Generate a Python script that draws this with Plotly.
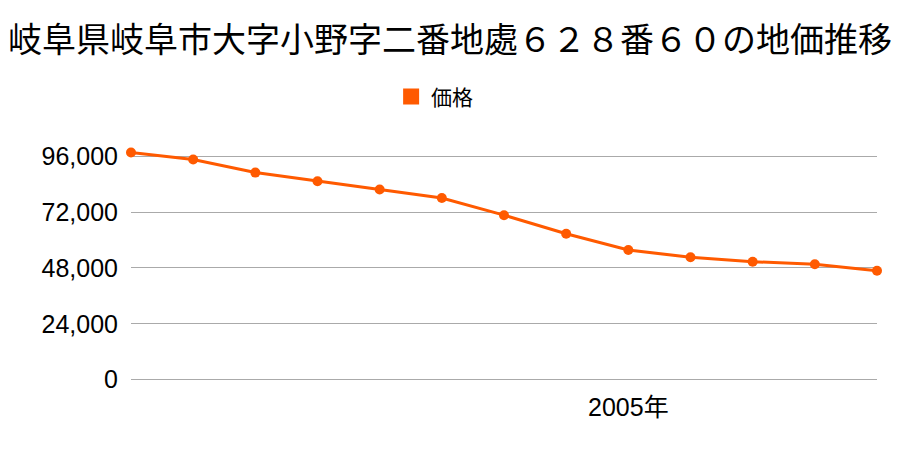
import plotly.graph_objects as go

years = list(range(1997, 2010))
prices = [97600, 94600, 89000, 85300, 81700, 78100, 70700, 62700, 55700, 52600, 50700, 49600, 46800]
y_ticks = [0, 24000, 48000, 72000, 96000]
x_tickvals = [2005]
x_ticktext = ["2005年"]
title = "岐阜県岐阜市大字小野字二番地處６２８番６０の地価推移"
series_name = "価格"
color = "#FF5A00"

fig = go.Figure()
fig.add_trace(go.Scatter(
    x=years, y=prices, mode="lines+markers",
    line=dict(color=color, width=3),
    marker=dict(color=color, size=10),
    showlegend=False, cliponaxis=False,
))
fig.add_trace(go.Scatter(
    x=[None], y=[None], mode="markers", name=series_name,
    marker=dict(color=color, size=21, symbol="square"),
))

fig.update_layout(
    width=900, height=450,
    paper_bgcolor="white", plot_bgcolor="white",
    font=dict(family="Liberation Sans, Noto Sans CJK JP", color="black", size=25),
    title=dict(text=title, x=0.5, xanchor="center", xref="container", y=0.91, yanchor="middle",
               font=dict(family="Noto Sans CJK JP", size=34, color="black")),
    margin=dict(l=131, r=23, t=147, b=68),
    legend=dict(orientation="h", x=0.407, xanchor="center", y=1.213, yanchor="middle",
                font=dict(family="Noto Sans CJK JP", size=21), itemwidth=30),
    xaxis=dict(range=[1997, 2009], tickvals=x_tickvals, ticktext=x_ticktext,
               showgrid=False, zeroline=False, showline=False, ticklabelstandoff=8,
               automargin=False),
    yaxis=dict(range=[-1000, 100000], tickvals=y_ticks, tickformat=",",
               showgrid=True, gridcolor="#aaaaaa", gridwidth=1,
               zeroline=False, showline=False, ticklabelstandoff=12,
               automargin=False),
)

fig.write_html("out.html", config={"displayModeBar": False},
               post_script="document.body.style.margin='0';")
